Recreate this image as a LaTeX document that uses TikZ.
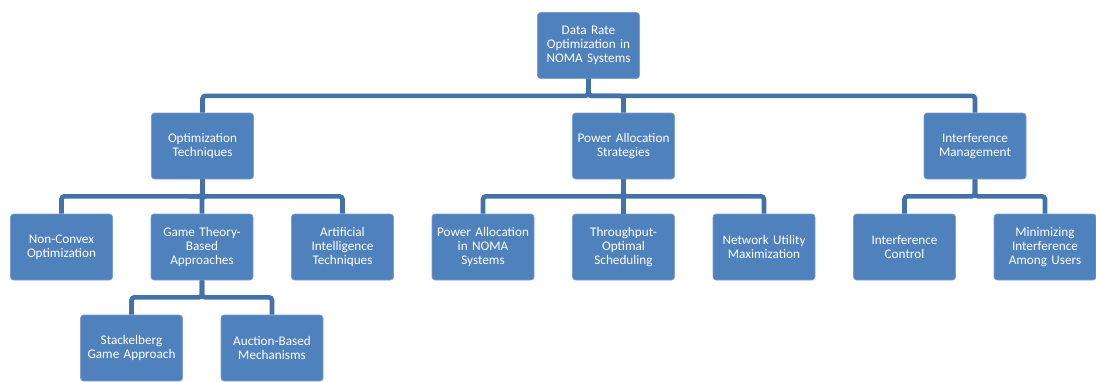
\documentclass[tikz,border=0pt]{standalone}
\usepackage{fontspec}
\setmainfont{Carlito}
\definecolor{boxblue}{RGB}{79,129,189}
\definecolor{lineblue}{RGB}{66,114,168}
\begin{document}
\begin{tikzpicture}[x=1pt,y=-1pt,
  box/.style={draw=white!25!boxblue, line width=0.6pt, fill=boxblue, rounded corners=3pt,
    minimum width=102pt, minimum height=66pt, text width=100pt, align=center,
    text=white, font=\fontsize{13.2}{14.3}\selectfont, inner sep=0pt},
  conn/.style={draw=lineblue, line width=4.6pt, rounded corners=3pt}]
\useasboundingbox (0,0) rectangle (1096,381);

% level 0
\node[box] (root) at (588.5,45.5) {Data Rate\\Optimization in\\NOMA Systems};
% level 1
\node[box] (opt) at (202.5,146) {Optimization\\Techniques};
\node[box] (pas) at (623.5,146) {Power Allocation\\Strategies};
\node[box] (im)  at (975,146)   {Interference\\Management};
% level 2
\node[box] (nc)  at (61.5,247)  {Non-Convex\\Optimization};
\node[box] (gt)  at (202,247)   {Game Theory-\\Based\\Approaches};
\node[box] (ai)  at (342.5,247) {Artificial\\Intelligence\\Techniques};
\node[box] (pan) at (483,247)   {Power Allocation\\in NOMA\\Systems};
\node[box] (tos) at (623.5,247) {Throughput-\\Optimal\\Scheduling};
\node[box] (nu)  at (764,247)   {Network Utility\\Maximization};
\node[box] (ic)  at (904.5,247) {Interference\\Control};
\node[box] (mi)  at (1045,247)  {Minimizing\\Interference\\Among Users};
% level 3
\node[box] (sg)  at (131.5,348) {Stackelberg\\Game Approach};
\node[box] (ab)  at (272,348)   {Auction-Based\\Mechanisms};

% elbow connectors
\foreach \p/\c in {root/opt,root/pas,root/im,
                   opt/nc,opt/gt,opt/ai,
                   pas/pan,pas/tos,pas/nu,
                   im/ic,im/mi,
                   gt/sg,gt/ab}
  \draw[conn] (\p.south) -- ++(0,17) -| (\c.north);
\end{tikzpicture}
\end{document}
